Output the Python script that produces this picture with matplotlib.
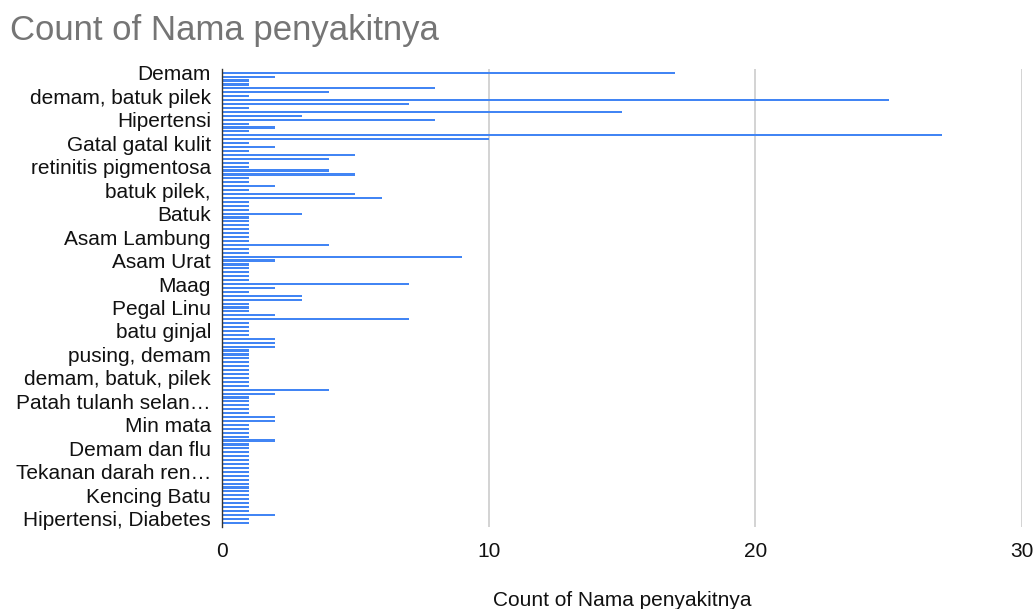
import numpy as np
import matplotlib.pyplot as plt

# jumlah pasien per nama penyakit, urut seperti di sheet
counts = [
    17, 2, 1, 1, 8, 4, 1, 25, 7, 1, 15, 3, 8, 1, 2, 1, 27, 10,
    1, 2, 1, 5, 4, 1, 1, 4, 5, 1, 1, 2, 1, 5, 6, 1, 1, 1, 3,
    1, 1, 1, 1, 1, 1, 1, 4, 1, 1, 9, 2, 1, 1, 1, 1, 1, 7, 2, 1,
    3, 3, 1, 1, 1, 2, 7, 1, 1, 1, 1, 2, 2, 2, 1, 1, 1, 1,
    1, 1, 1, 1, 1, 1, 4, 2, 1, 1, 1, 1, 1, 2, 2, 1, 1, 1, 1, 2,
    1, 1, 1, 1, 1, 1, 1, 1, 1, 1, 1, 1, 1, 1, 1, 1, 1, 1,
    2, 1, 1,
]

# label yang tampil (setiap 6 kategori)
shown_labels = [
    "Demam", "demam, batuk pilek", "Hipertensi", "Gatal gatal kulit",
    "retinitis pigmentosa", "batuk pilek,", "Batuk", "Asam Lambung",
    "Asam Urat", "Maag", "Pegal Linu", "batu ginjal", "pusing, demam",
    "demam, batuk, pilek", "Patah tulanh selan…", "Min mata",
    "Demam dan flu", "Tekanan darah ren…", "Kencing Batu",
    "Hipertensi, Diabetes",
]
label_step = 6

plt.rcParams['font.family'] = ['Liberation Sans', 'DejaVu Sans']

fig = plt.figure(figsize=(10.34, 6.09), dpi=100)
ax = fig.add_axes([0.2147, 0.1346, 0.7737, 0.7521])

y = np.arange(len(counts))
ax.barh(y, counts, height=0.55, color='#4285F4', zorder=3)

ax.set_xlim(0, 30)
ax.set_ylim(len(counts) + 0.1, -0.95)
ax.set_xticks([0, 10, 20, 30])
ax.set_xticklabels(['0', '10', '20', '30'], fontsize=15, color='#111111')
ax.set_yticks(y[::label_step])
ax.set_yticklabels(shown_labels, fontsize=15, color='#111111')
ax.tick_params(axis='x', length=0, pad=11)
ax.tick_params(axis='y', length=0, pad=8)

ax.grid(axis='x', color='#cccccc', linewidth=1.2, zorder=0)
for side in ['top', 'right', 'bottom']:
    ax.spines[side].set_visible(False)
ax.spines['left'].set_color('#333333')
ax.spines['left'].set_linewidth(1.0)
ax.spines['left'].set_zorder(4)

fig.text(0.0097, 0.95, 'Count of Nama penyakitnya', fontsize=25,
         color='#757575', ha='left', va='center')
fig.text(0.6015, 0.014, 'Count of Nama penyakitnya', fontsize=15,
         color='#111111', ha='center', va='center')

fig.savefig('out.png', dpi=100)
